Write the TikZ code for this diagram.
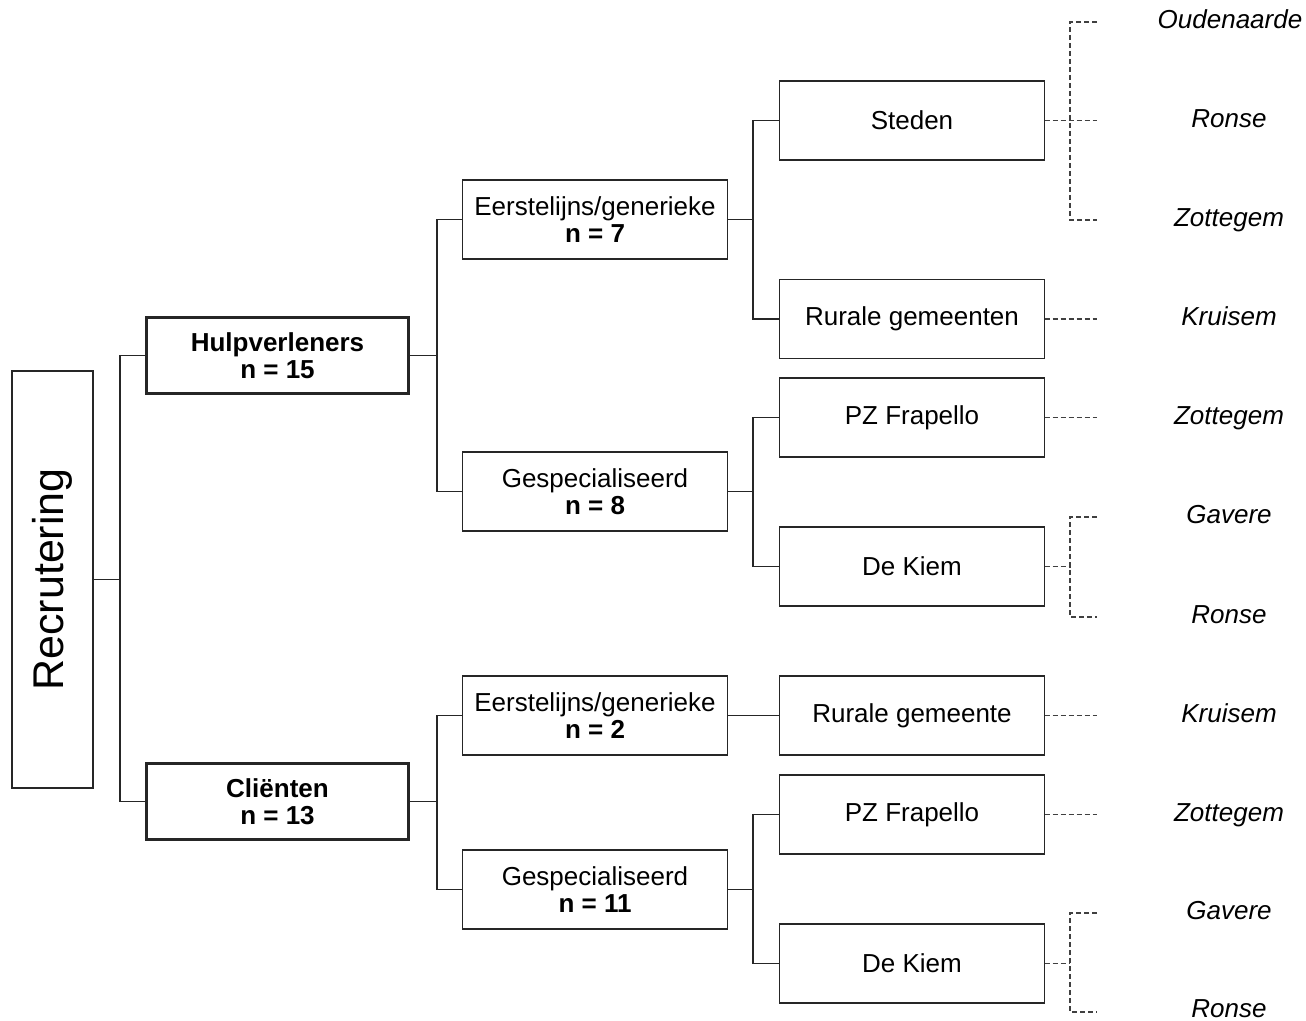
\documentclass[tikz,border=0pt]{standalone}
\usepackage{fontspec}
\setmainfont{Liberation Sans}
\usepackage{graphicx}
\begin{document}
\begin{tikzpicture}[x=0.5pt,y=-0.5pt,
  box/.style={draw=black!85, line width=0.75pt, minimum width=132.5pt, minimum height=39.5pt,
    inner sep=0pt, outer sep=0pt, align=center, font=\fontsize{13}{13.6}\selectfont},
  mainbox/.style={box, line width=1.5pt, minimum width=131pt, minimum height=38pt,
    font=\fontsize{13}{13.6}\selectfont\bfseries},
  conn/.style={draw=black!85, line width=0.75pt},
  dashline/.style={draw=black!75, line width=0.7pt, dash pattern=on 2.5pt off 1.5pt},
  lbl/.style={anchor=base, inner sep=0pt, font=\fontsize{13}{13}\selectfont\itshape}]
\useasboundingbox (0,0) rectangle (1306,1021);

% nodes
\node[box, minimum width=40.5pt, minimum height=208.5pt] (rec) at (52.5,579.5)
  {\rotatebox{90}{\fontsize{21.5}{22}\selectfont Recrutering}};
\node[mainbox] (hulp) at (277.5,355.5) {Hulpverleners\\n = 15};
\node[mainbox] (clien) at (277.5,801.5) {Cliënten\\n = 13};
\node[box] (e1) at (595,219.5) {Eerstelijns/generieke\\\textbf{n = 7}};
\node[box] (g1) at (595,491.5) {Gespecialiseerd\\\textbf{n = 8}};
\node[box] (e2) at (595,715.5) {Eerstelijns/generieke\\\textbf{n = 2}};
\node[box] (g2) at (595,889.5) {Gespecialiseerd\\\textbf{n = 11}};
\node[box] (st) at (912,120.5) {Steden};
\node[box] (ru1) at (912,319) {Rurale gemeenten};
\node[box] (pz1) at (912,417.5) {PZ Frapello};
\node[box] (dk1) at (912,566.5) {De Kiem};
\node[box] (ru2) at (912,715.5) {Rurale gemeente};
\node[box] (pz2) at (912,814.5) {PZ Frapello};
\node[box] (dk2) at (912,963.5) {De Kiem};

% labels
\node[lbl] (l1) at (1230,28.5) {Oudenaarde};
\node[lbl] (l2) at (1229,127.5) {Ronse};
\node[lbl] (l3) at (1229,226.5) {Zottegem};
\node[lbl] (l4) at (1229,326) {Kruisem};
\node[lbl] (l5) at (1229,424.5) {Zottegem};
\node[lbl] (l6) at (1229,523.5) {Gavere};
\node[lbl] (l7) at (1229,623) {Ronse};
\node[lbl] (l8) at (1229,722) {Kruisem};
\node[lbl] (l9) at (1229,821) {Zottegem};
\node[lbl] (l10) at (1229,919.5) {Gavere};
\node[lbl] (l11) at (1229,1017) {Ronse};

% junctions
\coordinate (j1) at (120,579.5);
\coordinate (j2) at (437,355.5);
\coordinate (j3) at (437,801.5);
\coordinate (j4) at (753,219.5);
\coordinate (j5) at (753,491.5);
\coordinate (j6) at (753,889.5);

\draw[conn] (rec.east) -- (j1);
\draw[conn] (hulp.west) -| (j1) |- (clien.west);
\draw[conn] (hulp.east) -- (j2);
\draw[conn] (e1.west) -| (j2) |- (g1.west);
\draw[conn] (clien.east) -- (j3);
\draw[conn] (e2.west) -| (j3) |- (g2.west);
\draw[conn] (e1.east) -- (j4);
\draw[conn] (st.west) -| (j4) |- (ru1.west);
\draw[conn] (g1.east) -- (j5);
\draw[conn] (pz1.west) -| (j5) |- (dk1.west);
\draw[conn] (e2.east) -- (ru2.west);
\draw[conn] (g2.east) -- (j6);
\draw[conn] (pz2.west) -| (j6) |- (dk2.west);

% dashed ends
\coordinate (k1) at (1070,120.5);
\coordinate (k2) at (1070,566.5);
\coordinate (k3) at (1070,963.5);
\coordinate (t1) at (1097,22);
\coordinate (t2) at (1097,120.5);
\coordinate (t3) at (1097,220);
\coordinate (t4) at (1097,319);
\coordinate (t5) at (1097,417.5);
\coordinate (t6) at (1097,517);
\coordinate (t7) at (1097,617);
\coordinate (t8) at (1097,715.5);
\coordinate (t9) at (1097,814.5);
\coordinate (t10) at (1097,913);
\coordinate (t11) at (1097,1012);

\draw[dashline] (st.east) -- (t2);
\draw[dashline] (t1) -| (k1) |- (t3);
\draw[dashline] (ru1.east) -- (t4);
\draw[dashline] (pz1.east) -- (t5);
\draw[dashline] (dk1.east) -- (k2);
\draw[dashline] (t6) -| (k2) |- (t7);
\draw[dashline] (ru2.east) -- (t8);
\draw[dashline] (pz2.east) -- (t9);
\draw[dashline] (dk2.east) -- (k3);
\draw[dashline] (t10) -| (k3) |- (t11);
\end{tikzpicture}
\end{document}
